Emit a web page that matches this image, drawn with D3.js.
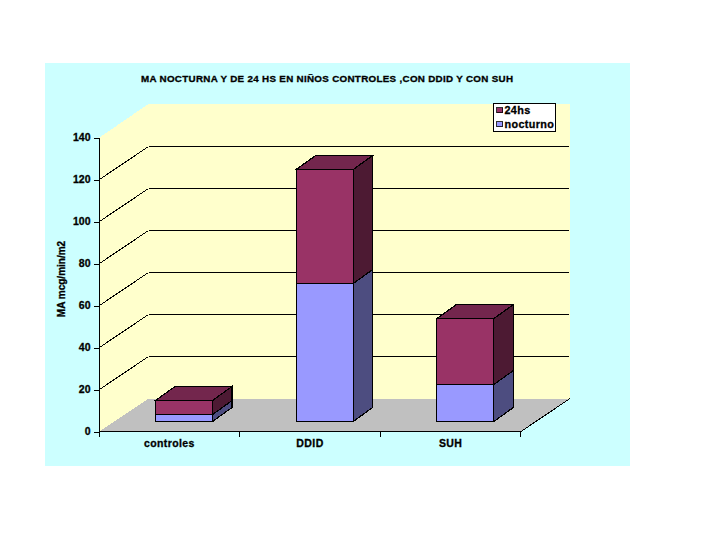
<!DOCTYPE html>
<html><head><meta charset="utf-8">
<script src="https://cdn.jsdelivr.net/npm/d3@7"></script>
<style>
html,body{margin:0;padding:0;background:#fff}
svg{display:block}
text{font-family:"Liberation Sans",Arial,sans-serif;font-weight:bold;fill:#000;stroke:#000;stroke-width:.3px}
</style></head><body>
<div id="chart"></div>
<script>
const categories = ["controles","DDID","SUH"];
const nocturno = [3.3, 65.7, 17.6];
const hs24 = [6.7, 54.3, 31.4];
const yTicks = [0,20,40,60,80,100,120,140];
const seriesNames = ["24hs","nocturno"];
const titleText = "MA NOCTURNA Y DE 24 HS EN NIÑOS CONTROLES ,CON DDID Y CON SUH";
const yTitle = "MA mcg/min/m2";

const W=719,H=539;
const svg=d3.select("#chart").append("svg").attr("width",W).attr("height",H).attr("shape-rendering","crispEdges");
const poly=(pts,fill,stroke)=>svg.append("polygon").attr("points",pts.map(p=>p.join(",")).join(" ")).attr("fill",fill).attr("stroke",stroke||"none").attr("stroke-width",stroke?1.2:0);
const line=(a,b,w)=>svg.append("line").attr("x1",a[0]).attr("y1",a[1]).attr("x2",b[0]).attr("y2",b[1]).attr("stroke","#000").attr("stroke-width",w||1);

// panel
svg.append("rect").attr("x",45).attr("y",63).attr("width",585).attr("height",403).attr("fill","#ccffff");

const y=d3.scaleLinear().domain([0,140]).range([431.5,137.5]);
const x=d3.scaleBand().domain(categories).range([99,521]);
const DX=49,DY=-33;
const xL=99.5,xR=521;

// walls & floor
poly([[xL,y(140)],[xL+DX,y(140)+DY-0.6],[xR+DX,y(140)+DY-0.6],[xR+DX,y(0)+DY],[xL+DX,y(0)+DY],[xL,y(0)]],"#ffffcc");
poly([[xL,y(0)],[xL+DX,y(0)+DY],[xR+DX,y(0)+DY],[xR,y(0)]],"#c0c0c0");

// gridlines
yTicks.filter(t=>t>0&&t<140).forEach(t=>{
  line([xL,y(t)],[xL+DX,y(t)+DY]);
  line([xL+DX,y(t)+DY],[xR+DX-1,y(t)+DY]);
});
line([xR,y(0)],[xR+DX,y(0)+DY]);

// bars
const barW=57, bdx=19.5, bdy=-14, barOff=56.5;
const py=v=>y(v)-10;
categories.forEach((c,i)=>{
  const x0=x(c)+barOff, x1=x0+barW;
  const yb=py(0), ym=py(nocturno[i]), yt=py(nocturno[i]+hs24[i]);
  poly([[x1,yb],[x1+bdx,yb+bdy],[x1+bdx,ym+bdy],[x1,ym]],"#4d4d80","#000");
  poly([[x1,ym],[x1+bdx,ym+bdy],[x1+bdx,yt+bdy],[x1,yt]],"#4d1a33","#000");
  poly([[x0,yt],[x0+bdx,yt+bdy],[x1+bdx,yt+bdy],[x1,yt]],"#73264d","#000");
  svg.append("rect").attr("x",x0).attr("y",ym).attr("width",barW).attr("height",yb-ym).attr("fill","#9999ff").attr("stroke","#000").attr("stroke-width",1.2);
  svg.append("rect").attr("x",x0).attr("y",yt).attr("width",barW).attr("height",ym-yt).attr("fill","#993366").attr("stroke","#000").attr("stroke-width",1.2);
});

// axes
const gy=svg.append("g").attr("transform",`translate(${xL},0)`)
  .call(d3.axisLeft(y).tickValues(yTicks).tickSize(6).tickPadding(3));
gy.selectAll("path").attr("d",`M0,${y(140)}V${y(0)}`).attr("stroke","#000").attr("stroke-width",1.2);
const gx=svg.append("g").attr("transform",`translate(0,${y(0)})`)
  .call(d3.axisBottom(d3.scalePoint().domain(d3.range(4)).range([xL-1,xR-1])).tickSize(5).tickFormat(""));
gx.selectAll("path").attr("d",`M${xL},0H${xR}`).attr("stroke","#000").attr("stroke-width",1.2);
svg.selectAll(".tick line").attr("stroke","#000").attr("stroke-width",1);
gy.selectAll("text").attr("font-size",10.5).style("font-family",'"Liberation Sans"').style("font-weight","bold");

// category labels
svg.selectAll("text.cat").data(categories).join("text").attr("class","cat")
  .attr("x",c=>x(c)+x.bandwidth()/2).attr("y",447).attr("text-anchor","middle").attr("font-size",10.5).attr("letter-spacing",".4").text(c=>c);

// titles
svg.append("text").attr("x",327).attr("y",82).attr("text-anchor","middle").attr("font-size",9.8)
  .attr("textLength",372).attr("lengthAdjust","spacing").text(titleText);
svg.append("text").attr("transform","translate(65,279) rotate(-90)").attr("text-anchor","middle").attr("font-size",10).text(yTitle);

// legend
svg.append("rect").attr("x",493.5).attr("y",103.5).attr("width",62).attr("height",28).attr("fill","#fff").attr("stroke","#000").attr("stroke-width",1.2);
const legendFill=["#993366","#9999ff"];
seriesNames.forEach((s,i)=>{
  svg.append("rect").attr("x",496.5).attr("y",107.5+14*i).attr("width",6).attr("height",5).attr("fill",legendFill[i]).attr("stroke","#000").attr("stroke-width",.8);
  svg.append("text").attr("x",504.5).attr("y",114+14*i).attr("font-size",10.8).attr("letter-spacing",".35").text(s);
});
</script>
</body></html>
